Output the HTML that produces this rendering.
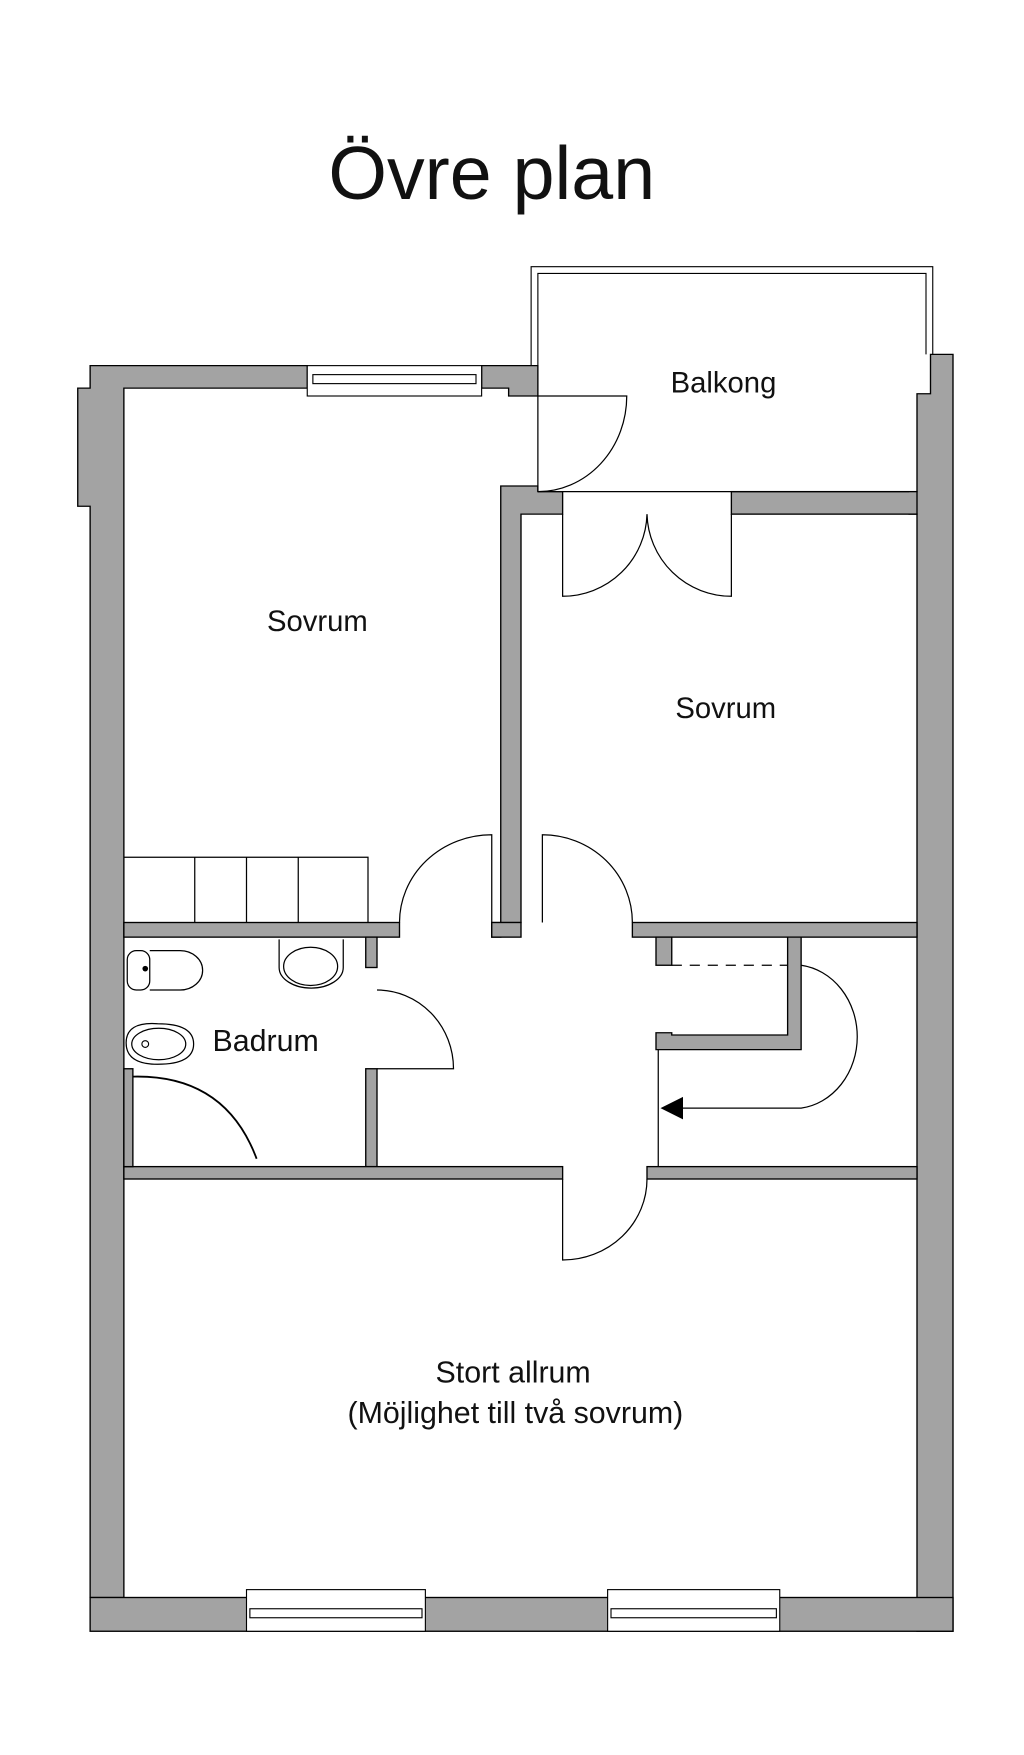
<!DOCTYPE html>
<html><head><meta charset="utf-8"><style>
html,body{margin:0;padding:0;background:#fff}
svg{display:block}
text{font-family:"Liberation Sans",sans-serif;fill:#111}
</style></head><body>
<svg width="1024" height="1755" viewBox="0 0 910 1560" xmlns="http://www.w3.org/2000/svg">
<rect width="910" height="1560" fill="#fff"/>
<text x="437" y="177" font-size="67" text-anchor="middle">Övre plan</text>

<!-- balcony railing -->
<g fill="none" stroke="#000" stroke-width="1">
<path d="M472 325 V237 H829 V315"/>
<path d="M478 352 V243 H823 V315"/>
</g>

<g fill="#a3a3a3" stroke="#000" stroke-width="1.2">
<path d="M80 325 H273 V345 H110 V1420 H80 V450 H69 V345 H80 Z"/>
<path d="M428 325 H478 V352 H452 V345 H428 Z"/>
<path d="M827 315 H847 V1450 H815 V457 H808 V437 H815 V350 H827 Z"/>
<rect x="80" y="1420" width="767" height="30"/>
<path d="M452 432 H478 V437 H500 V457 H463 V820 H437 V833 H445 V432 Z" />
<rect x="650" y="437" width="165" height="20"/>
<rect x="110" y="820" width="245" height="13"/>
<rect x="437" y="820" width="26" height="13"/>
<rect x="562" y="820" width="253" height="13"/>
<rect x="325" y="833" width="10" height="27"/>
<rect x="325" y="950" width="10" height="87"/>
<rect x="110" y="1037" width="390" height="11"/>
<rect x="575" y="1037" width="240" height="11"/>
<rect x="583" y="833" width="14" height="25"/>
<path d="M700 833 H712 V933 H583 V918 H597 V920 H700 Z"/>
<rect x="110" y="950" width="8" height="87"/>
</g>
<g fill="#fff" stroke="#000" stroke-width="1">
<rect x="273" y="325" width="155" height="27"/>
<rect x="278" y="333" width="145" height="8"/>
<rect x="219" y="1413" width="159" height="37"/>
<rect x="222" y="1430" width="153" height="8"/>
<rect x="540" y="1413" width="153" height="37"/>
<rect x="543" y="1430" width="147" height="8"/>
</g>

<g fill="none" stroke="#000" stroke-width="1.1">
<path d="M478 437 H808"/>
<path d="M478 352 V437"/>
<path d="M478 352 H557 A79 85 0 0 1 478 437"/>
<path d="M500 457 V530 A75 75 0 0 0 575 457 A75 75 0 0 0 650 530 V457"/>
<path d="M437 820 V742 A82 78 0 0 0 355 820"/>
<path d="M482 820 V742 A80 78 0 0 1 562 820"/>
<path d="M110 762 H327 V820 M173 762 V820 M219 762 V820 M265 762 V820"/>
<path d="M335 950 H403 A68 70 0 0 0 335 880"/>
<path d="M500 1048 V1120 A75 72 0 0 0 575 1048"/>
<path d="M597 858 H700" stroke-dasharray="9 7"/>
<path d="M585 933 V1037"/>
<path d="M712 858 A57 64 0 0 1 712 985 H607"/>
<rect x="113" y="845" width="20" height="35" rx="8"/>
<path d="M133 845 H160 A20 17.5 0 0 1 160 880 H133"/>
<path d="M248 835 V860 A28 18 0 0 0 305 860 V835"/>
<ellipse cx="276" cy="859" rx="24" ry="17"/>
<path d="M112 927 Q112 908 140 910 Q172 910 172 928 Q172 946 140 946 Q112 946 112 927 Z"/>
<ellipse cx="141" cy="928" rx="24" ry="14"/>
<path d="M118 957 Q200 955 228 1030" stroke-width="1.6"/>
</g>
<circle cx="129" cy="861" r="2.5"/>
<circle cx="129" cy="928" r="3" fill="none" stroke="#000"/>
<path d="M587 985 L607 975 V995 Z" fill="#000"/>

<text x="643" y="349" font-size="26" text-anchor="middle">Balkong</text>
<text x="282" y="561" font-size="26" text-anchor="middle">Sovrum</text>
<text x="645" y="638" font-size="26" text-anchor="middle">Sovrum</text>
<text x="236" y="934" font-size="27" text-anchor="middle">Badrum</text>
<text x="456" y="1229" font-size="27" text-anchor="middle">Stort allrum</text>
<text x="458" y="1265" font-size="27" text-anchor="middle">(Möjlighet till två sovrum)</text>
</svg>
</body></html>
